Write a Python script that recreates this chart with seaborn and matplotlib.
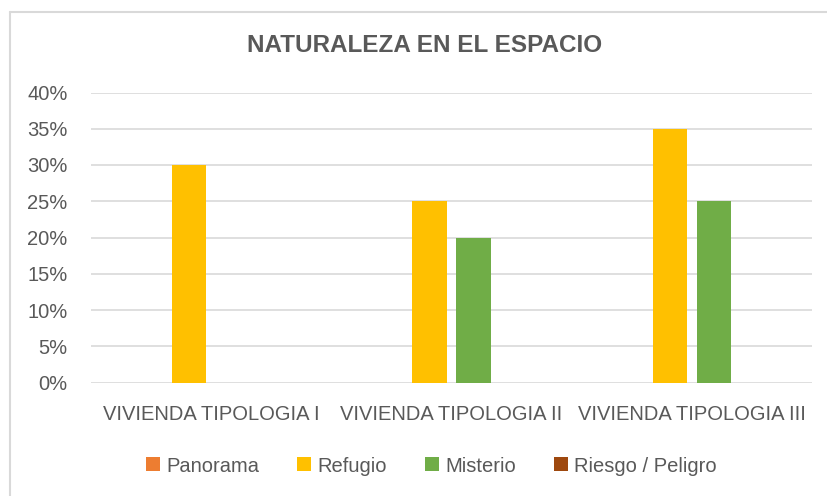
import matplotlib
matplotlib.use("Agg")
import matplotlib.pyplot as plt
import seaborn as sns
import pandas as pd
from matplotlib.lines import Line2D
from matplotlib.ticker import PercentFormatter

categories = ["VIVIENDA TIPOLOGIA I", "VIVIENDA TIPOLOGIA II", "VIVIENDA TIPOLOGIA III"]
series = ["Panorama", "Refugio", "Misterio", "Riesgo / Peligro"]
panorama = [0.0, 0.0, 0.0]
refugio = [0.30, 0.25, 0.35]
misterio = [0.0, 0.20, 0.25]
riesgo = [0.0, 0.0, 0.0]
colors = ["#ED7D31", "#FFC000", "#70AD47", "#9E480E"]
yticks = [0, 0.05, 0.10, 0.15, 0.20, 0.25, 0.30, 0.35, 0.40]

rows = []
for name, vals in zip(series, [panorama, refugio, misterio, riesgo]):
    for c, v in zip(categories, vals):
        rows.append({"cat": c, "serie": name, "val": v})
df = pd.DataFrame(rows)

sns.set_theme(style="white")
plt.rcParams["font.family"] = ["Liberation Sans", "DejaVu Sans"]

W, H = 827, 496
fig = plt.figure(figsize=(W / 100, H / 100), dpi=100)
ax = fig.add_axes([91 / W, 1 - 382.5 / H, (812 - 91) / W, (382.5 - 92.5) / H])

sns.barplot(data=df, x="cat", y="val", hue="serie", order=categories,
            hue_order=series, palette=colors, width=0.73, gap=0.22,
            linewidth=0, saturation=1, ax=ax, legend=False)

ax.set_ylim(0, 0.40)
ax.set_xlim(-0.5, 2.5)
ax.set_yticks(yticks)
ax.yaxis.set_major_formatter(PercentFormatter(1.0, decimals=0))
ax.grid(axis="y", color="#D9D9D9", linewidth=1.2)
ax.set_axisbelow(True)
for s in ax.spines.values():
    s.set_visible(False)
ax.set_xlabel("")
ax.set_ylabel("")
ax.tick_params(axis="y", length=0, pad=17, labelsize=14.5, labelcolor="#595959")
ax.tick_params(axis="x", length=0, pad=16, labelsize=14.5, labelcolor="#595959")

fig.text(425 / W, 1 - 46 / H, "NATURALEZA EN EL ESPACIO", ha="center", va="center",
         fontsize=17.5, fontweight="bold", color="#595959")

handles = [Line2D([], [], marker="s", linestyle="none", markersize=9.5,
                  markerfacecolor=c, markeredgewidth=0) for c in colors]
fig.legend(handles, series, loc="center", bbox_to_anchor=(431 / W, 1 - 466 / H),
           ncol=4, frameon=False, fontsize=14.5, labelcolor="#595959",
           handletextpad=0.25, columnspacing=1.85, handlelength=0.8)

# outer chart border (left and top visible)
fig.add_artist(Line2D([10 / W, 10 / W], [0, 1 - 11.5 / H], color="#D9D9D9", lw=1.5,
                      transform=fig.transFigure))
fig.add_artist(Line2D([10 / W, 1], [1 - 11.5 / H, 1 - 11.5 / H], color="#D9D9D9", lw=1.5,
                      transform=fig.transFigure))

fig.savefig("out.png", dpi=100)
